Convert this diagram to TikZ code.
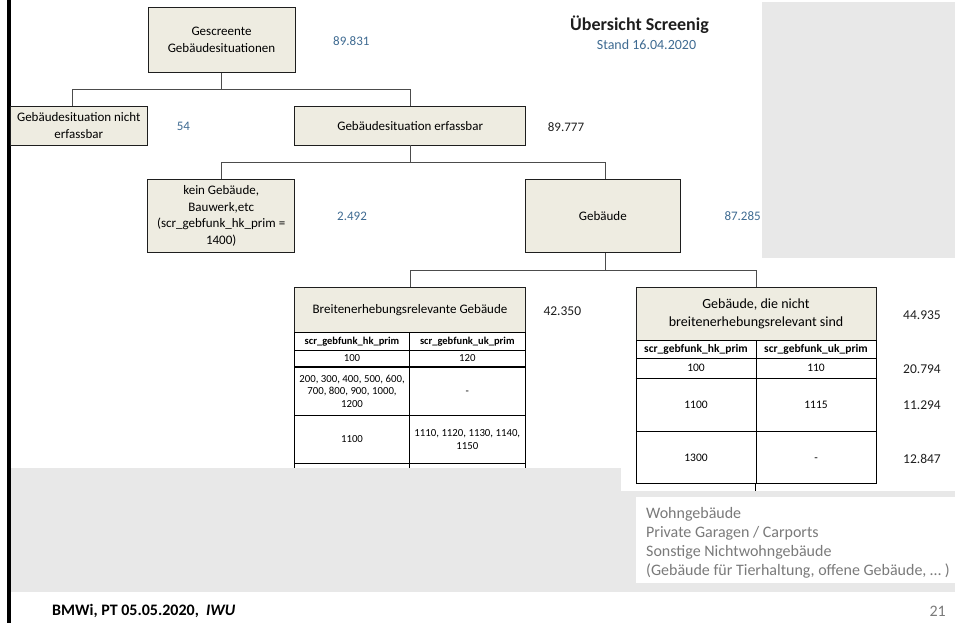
\documentclass[tikz,border=0pt]{standalone}
\usepackage{fontspec}
\setmainfont{Carlito}
\usetikzlibrary{positioning,calc}
\definecolor{tan}{RGB}{238,236,225}
\definecolor{slate}{RGB}{62,106,145}
\definecolor{panel}{RGB}{232,232,232}
\definecolor{ink}{RGB}{30,30,30}
\definecolor{muted}{RGB}{122,122,122}
\tikzset{
  box/.style={draw=ink,line width=0.9pt,fill=tan,align=center,inner sep=0pt,font=\fontsize{13}{16.8}\selectfont},
  link/.style={draw=black!70,line width=0.9pt},
  grid/.style={draw=black,line width=0.7pt},
  sep/.style={draw=black,line width=1.6pt},
  num/.style={anchor=west,inner sep=0pt,text=slate,font=\fontsize{13}{15}\selectfont},
  numd/.style={num,text=ink},
  side/.style={inner sep=0pt,text=ink,font=\fontsize{13.5}{16}\selectfont},
  cella/.style={grid,align=center,inner sep=0pt,font=\fontsize{10.8}{12.6}\selectfont},
  heada/.style={cella,font=\bfseries\fontsize{10.5}{12}\selectfont},
  cellb/.style={grid,align=center,inner sep=0pt,font=\fontsize{11.5}{13.5}\selectfont},
  headb/.style={cellb,font=\bfseries\fontsize{11.5}{13}\selectfont},
  note/.style={anchor=west,align=left,inner sep=0pt,text=muted,font=\fontsize{16}{19}\selectfont}
}

\begin{document}
\begin{tikzpicture}[x=1pt,y=-1pt]
  \useasboundingbox (0,0) rectangle (955,623);
  \fill[panel] (762,2) rectangle (955,258);
  \fill[panel] (11,468) rectangle (955,592);
  \fill[white] (621,468) rectangle (955,491);
  \fill[white] (636,497) rectangle (955,583);
  \draw[line width=3.4pt] (9,0) -- (9,623);

  \node[font=\bfseries\fontsize{18}{22}\selectfont,text=ink] (title) at (639.5,25) {Übersicht Screenig};
  \node[font=\fontsize{14}{17}\selectfont,text=slate] (stand) at (646.5,45) {Stand 16.04.2020};

  \node[box,minimum width=147pt,minimum height=65pt] (scr) at (221.5,39.7) {Gescreente\\Gebäudesituationen};
  \node[box,minimum width=137.7pt,minimum height=38.3pt] (nerf) at (78.8,125.8) {Gebäudesituation nicht\\erfassbar};
  \node[box,minimum width=231pt,minimum height=38.3pt] (erf) at (410.2,125.8) {Gebäudesituation erfassbar};
  \node[box,minimum width=147pt,minimum height=73.7pt] (kein) at (221.2,215.8) {kein Gebäude,\\Bauwerk,etc\\(scr\_gebfunk\_hk\_prim =\\1400)};
  \node[box,minimum width=155pt,minimum height=73.7pt] (geb) at (602.8,215.8) {Gebäude};

  \draw[link] (scr.south) -- ++(0,17) coordinate (j1);
  \draw[link] ([xshift=-6pt]nerf.north) |- (j1) -| (erf.north);
  \draw[link] (erf.south) -- ++(0,17) coordinate (j2);
  \draw[link] (kein.north) |- (j2) -| ([xshift=3pt]geb.north);

  \node[num] (v1) at (333,40.7) {89.831};
  \node[num] (v2) at (176.7,126) {54};
  \node[numd] (v3) at (547.7,126.7) {89.777};
  \node[num] (v4) at (337,216) {2.492};
  \node[num] (v5) at (724.3,216) {87.285};

  % breitenerhebungsrelevant
  \node[box,line width=0.7pt,minimum width=230.6pt,minimum height=45.7pt] (brh) at (410,309.8) {Breitenerhebungsrelevante Gebäude};
  \node[heada,minimum width=114.6pt,minimum height=17.3pt] (t1a0) at (352,341.35) {scr\_gebfunk\_hk\_prim};
  \node[heada,minimum width=116pt,minimum height=17.3pt] (t1b0) at (467.3,341.35) {scr\_gebfunk\_uk\_prim};
  \node[cella,minimum width=114.6pt,minimum height=16.7pt] (t1a1) at (352,358.35) {100};
  \node[cella,minimum width=116pt,minimum height=16.7pt] (t1b1) at (467.3,358.35) {120};
  \node[cella,minimum width=114.6pt,minimum height=49pt] (t1a2) at (352,391.2) {200, 300, 400, 500, 600,\\700, 800, 900, 1000,\\1200};
  \node[cella,minimum width=116pt,minimum height=49pt] (t1b2) at (467.3,391.2) {\vphantom{0}-};
  \node[cella,minimum width=114.6pt,minimum height=47.6pt] (t1a3) at (352,439.5) {1100};
  \node[cella,minimum width=116pt,minimum height=47.6pt] (t1b3) at (467.3,439.5) {1110, 1120, 1130, 1140,\\1150};
  \draw[sep] (t1a1.south west) -- (t1b1.south east);
  \foreach \c in {t1a3.south west,t1b3.south west,t1b3.south east}{\draw[grid] (\c) -- ++(0,4);}
  \node[numd,font=\fontsize{13.5}{16}\selectfont] (v6) at (543.3,310.7) {42.350};

  % nicht breitenerhebungsrelevant
  \node[box,line width=0.7pt,minimum width=240pt,minimum height=52.3pt,font=\fontsize{14}{18.3}\selectfont] (nbrh) at (756,313.85) {Gebäude, die nicht\\breitenerhebungsrelevant sind};
  \node[headb,minimum width=120pt,minimum height=18.3pt] (t2a0) at (696,349.15) {scr\_gebfunk\_hk\_prim};
  \node[headb,minimum width=120pt,minimum height=18.3pt] (t2b0) at (816,349.15) {scr\_gebfunk\_uk\_prim};
  \node[cellb,minimum width=120pt,minimum height=20pt] (t2a1) at (696,368.3) {100};
  \node[cellb,minimum width=120pt,minimum height=20pt] (t2b1) at (816,368.3) {110};
  \node[cellb,minimum width=120pt,minimum height=53.4pt] (t2a2) at (696,405) {1100};
  \node[cellb,minimum width=120pt,minimum height=53.4pt] (t2b2) at (816,405) {1115};
  \node[cellb,minimum width=120pt,minimum height=51.3pt] (t2a3) at (696,457.35) {1300};
  \node[cellb,minimum width=120pt,minimum height=51.3pt] (t2b3) at (816,457.35) {\vphantom{0}-};
  \draw[sep] (t2a1.south west) -- (t2b1.south east);
  \draw[grid] (t2b3.south west) -- ++(0,8);
  \node[side] (w0) at (922,315) {44.935};
  \node[side] (w1) at (922,369.3) {20.794};
  \node[side] (w2) at (922,405) {11.294};
  \node[side] (w3) at (922,459.3) {12.847};

  \draw[link] ([xshift=3pt]geb.south) -- ++(0,17.3) coordinate (j3);
  \draw[link] (brh.north) |- (j3) -| (nbrh.north);

  \node[note] (list) at (646,542.5) {Wohngebäude\\Private Garagen / Carports\\Sonstige Nichtwohngebäude\\(Gebäude für Tierhaltung, offene Gebäude, … )};

  \node[anchor=west,inner sep=0pt,text=black,font=\bfseries\fontsize{16}{19}\selectfont] (foot) at (52,611) {BMWi, PT 05.05.2020, \ \textit{IWU}};
  \node[anchor=east,inner sep=0pt,text=muted,font=\fontsize{16}{19}\selectfont] (page) at (946,611) {21};
\end{tikzpicture}
\end{document}
